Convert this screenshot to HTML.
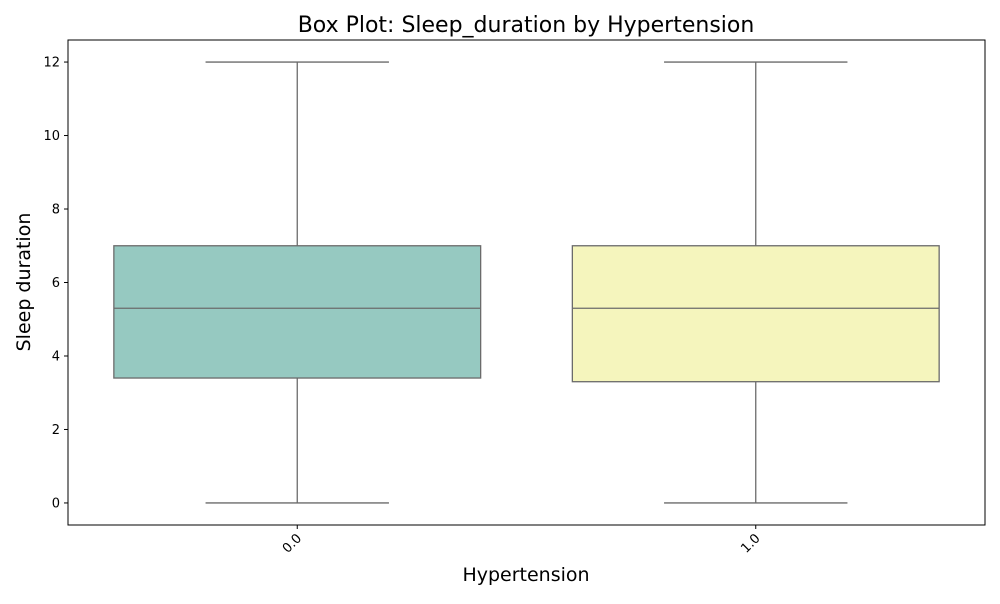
<!DOCTYPE html>
<html><head><meta charset="utf-8"><style>
body{margin:0;background:#fff;font-family:"DejaVu Sans","Liberation Sans",sans-serif}
</style></head><body>
<svg id="chart" width="1000" height="600" xmlns="http://www.w3.org/2000/svg" font-family="DejaVu Sans, Liberation Sans, sans-serif">
<rect width="1000" height="600" fill="#fff"/>
<text x="526" y="32" font-size="22" text-anchor="middle">Box Plot: Sleep_duration by Hypertension</text>
<g id="plot"></g>
<rect x="68" y="40" width="917" height="485" fill="none" stroke="#000" stroke-width="1"/>
<text x="526" y="581" font-size="19" text-anchor="middle">Hypertension</text>
<text transform="translate(30,282) rotate(-90)" font-size="19" text-anchor="middle">Sleep duration</text>
</svg>
<script>
const categories=["0.0","1.0"];
const whiskerLow=[0,0];
const q1=[3.4,3.3];
const median=[5.3,5.3];
const q3=[7.0,7.0];
const whiskerHigh=[12,12];
const yTicks=[0,2,4,6,8,10,12];
const colors=["#96c9c1","#f5f5bd"];
const X0=68,X1=985,Y0=525,Y1=40,ymin=-0.6,ymax=12.6;
const y=v=>Y0-(v-ymin)/(ymax-ymin)*(Y0-Y1);
const bandW=(X1-X0)/categories.length;
const xc=i=>X0+bandW*(i+0.5);
const g=document.getElementById('plot');
const ns="http://www.w3.org/2000/svg";
function mk(t,a){const e=document.createElementNS(ns,t);for(const k in a)e.setAttribute(k,a[k]);g.appendChild(e);return e;}
yTicks.forEach(t=>{
 const l=mk('line',{x1:X0-4,x2:X0,y1:y(t),y2:y(t),stroke:'#000'});
 
 
 const tx=mk('text',{x:X0-8,y:y(t)+4.5,'font-size':13,'text-anchor':'end'});
 tx.textContent=t;
 
 
});
const st='#6b6b6b';
categories.forEach((c,i)=>{
 const cx=xc(i),bw=bandW*0.8,cw=bw/2;
 const w1=mk('line',{x1:cx,x2:cx,y1:y(whiskerLow[i]),y2:y(q1[i]),stroke:st,'stroke-width':1.3});
 
 
 const w2=mk('line',{x1:cx,x2:cx,y1:y(q3[i]),y2:y(whiskerHigh[i]),stroke:st,'stroke-width':1.3});
 
 
 [whiskerLow[i],whiskerHigh[i]].forEach(v=>{
  const cap=mk('line',{x1:cx-cw/2,x2:cx+cw/2,y1:y(v),y2:y(v),stroke:st,'stroke-width':1.3});
  
  
 });
 const b=mk('rect',{x:cx-bw/2,y:y(q3[i]),width:bw,height:y(q1[i])-y(q3[i]),fill:colors[i],stroke:st,'stroke-width':1.3});
 
 
 const m=mk('line',{x1:cx-bw/2,x2:cx+bw/2,y1:y(median[i]),y2:y(median[i]),stroke:st,'stroke-width':1.3});
 
 
 const tk=mk('line',{x1:cx,x2:cx,y1:Y0,y2:Y0+4,stroke:'#000'});
 
 
 const tx=mk('text',{x:cx+5,y:Y0+14,'font-size':13,'text-anchor':'end',transform:`rotate(-45 ${cx+5} ${Y0+14})`});
 tx.textContent=c;
 
 
});
</script>
</body></html>
